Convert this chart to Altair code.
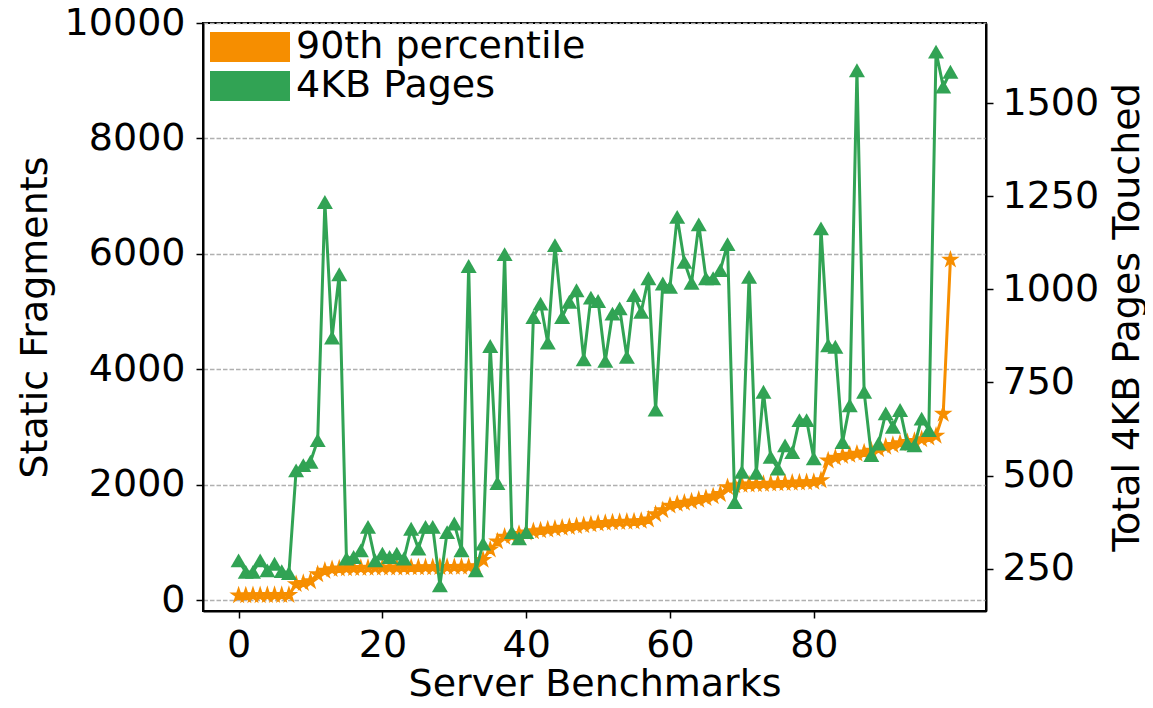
import altair as alt
import pandas as pd

bench = list(range(100))

frag90 = [85, 85, 88, 88, 90, 90, 92, 92,
          280, 300, 330, 450, 510, 540, 550, 555, 558, 560, 562, 563,
          565, 566, 567, 568, 570, 570, 572, 573, 575, 576, 578, 580, 582, 590,
          700, 880, 1020, 1100, 1120, 1150, 1175, 1195, 1210, 1225, 1240, 1255,
          1270, 1285, 1300, 1315, 1330, 1340, 1350, 1355, 1360, 1365, 1375, 1400,
          1490, 1560, 1640, 1670, 1690, 1710, 1740, 1770, 1800, 1840, 1960, 1990,
          2000, 2005, 2010, 2015, 2020, 2025, 2030, 2035, 2040, 2045, 2050, 2080,
          2420, 2470, 2500, 2520, 2540, 2560, 2590, 2620, 2660, 2690, 2720, 2740,
          2760, 2790, 2820, 2850, 3230, 5900]

pages4k = [272, 241, 241, 272, 245, 263, 243, 238, 514, 528, 537, 595, 1235, 871,
           1041, 277, 281, 299, 362, 272, 290, 281, 290, 277, 357, 304, 362, 362,
           205, 348, 371, 299, 1063, 245, 317, 848, 480, 1095, 348, 331, 348, 926,
           962, 857, 1119, 926, 967, 998, 812, 978, 969, 808, 935, 949, 819, 985,
           940, 1030, 677, 1016, 1007, 1195, 1074, 1018, 1175, 1030, 1030, 1052,
           1122, 429, 510, 1034, 507, 725, 550, 519, 581, 563, 649, 649, 546, 1164,
           850, 846, 590, 689, 1589, 725, 555, 586, 667, 631, 676, 586, 581, 653,
           622, 1639, 1545, 1585]

series_names = ["90th percentile", "4KB Pages"]
series_colors = ["#f68e00", "#31a354"]

left_ticks = [0, 2000, 4000, 6000, 8000, 10000]
right_ticks = [250, 500, 750, 1000, 1250, 1500]
x_ticks = [0, 20, 40, 60, 80]

STAR = ("M0,-1L0.2245,-0.309L0.951,-0.309L0.363,0.118L0.588,0.809L0,0.382"
        "L-0.588,0.809L-0.363,0.118L-0.951,-0.309L-0.2245,-0.309Z")
# wide legend swatch: 80 x 30 px drawn with symbolSize 1600 (half-size 20)
RECT = "M-2,-0.75L2,-0.75L2,0.75L-2,0.75Z"

FONT = "DejaVu Sans"
FS = 38

df_o = pd.DataFrame({"bench": bench, "value": frag90, "series": series_names[0]})
df_g = pd.DataFrame({"bench": bench, "value": pages4k, "series": series_names[1]})

color = alt.Color(
    "series:N",
    scale=alt.Scale(domain=series_names, range=series_colors),
    legend=alt.Legend(
        title=None, orient="none", legendX=27, legendY=4,
        symbolType=RECT, symbolSize=1600, symbolStrokeWidth=0, symbolOpacity=1,
        labelFontSize=FS, labelFont=FONT, labelColor="black", labelOffset=26,
        rowPadding=0, padding=0, labelLimit=600,
    ),
)

x = alt.X(
    "bench:Q",
    scale=alt.Scale(domain=[-4.95, 103.95], nice=False, zero=False),
    axis=alt.Axis(values=x_ticks, title="Server Benchmarks", grid=False, format="d",
                  labelPadding=8, titlePadding=1),
)

y_left = alt.Y(
    "value:Q",
    scale=alt.Scale(domain=[-185, 10000], nice=False, zero=False),
    axis=alt.Axis(values=left_ticks, title="Static Fragments", grid=True, format="d",
                  gridDash=[4.5, 2], gridColor="#b0b0b0", gridWidth=1.3,
                  labelPadding=11, titlePadding=10),
)

y_right = alt.Y(
    "value:Q",
    scale=alt.Scale(domain=[136, 1716], nice=False, zero=False),
    axis=alt.Axis(values=right_ticks, title="Total 4KB Pages Touched", orient="right",
                  grid=False, format="d", labelPadding=9, titlePadding=10,
                  titleAngle=270, titleBaseline="top"),
)

orange = alt.layer(
    alt.Chart(df_o).mark_line(strokeWidth=3, color=series_colors[0]).encode(x=x, y=y_left),
    alt.Chart(df_o).mark_point(shape=STAR, filled=True, size=170, opacity=1,
                               stroke=series_colors[0], strokeWidth=2).encode(
        x=x, y=y_left, color=color),
)

green = alt.layer(
    alt.Chart(df_g).mark_line(strokeWidth=3, color=series_colors[1]).encode(x=x, y=y_right),
    alt.Chart(df_g).mark_point(shape="triangle-up", filled=True, size=256, opacity=1).encode(
        x=x, y=y_right, color=color),
)

chart = (
    alt.layer(orange, green)
    .resolve_scale(y="independent")
    .properties(
        width=783, height=588,
        autosize=alt.AutoSizeParams(type="none"),
        padding={"left": 195, "top": 15, "right": 159, "bottom": 89},
    )
    .configure_view(stroke="black", strokeWidth=2)
    .configure_axis(
        labelFont=FONT, titleFont=FONT, labelFontSize=FS, titleFontSize=FS,
        labelColor="black", titleColor="black", titleFontWeight="normal",
        tickColor="black", tickSize=7, tickWidth=1.5,
        domainColor="black", domainWidth=2, labelFlush=False, labelOverlap=False,
    )
)

chart.save("out.html", embed_options={"renderer": "svg", "actions": False})
